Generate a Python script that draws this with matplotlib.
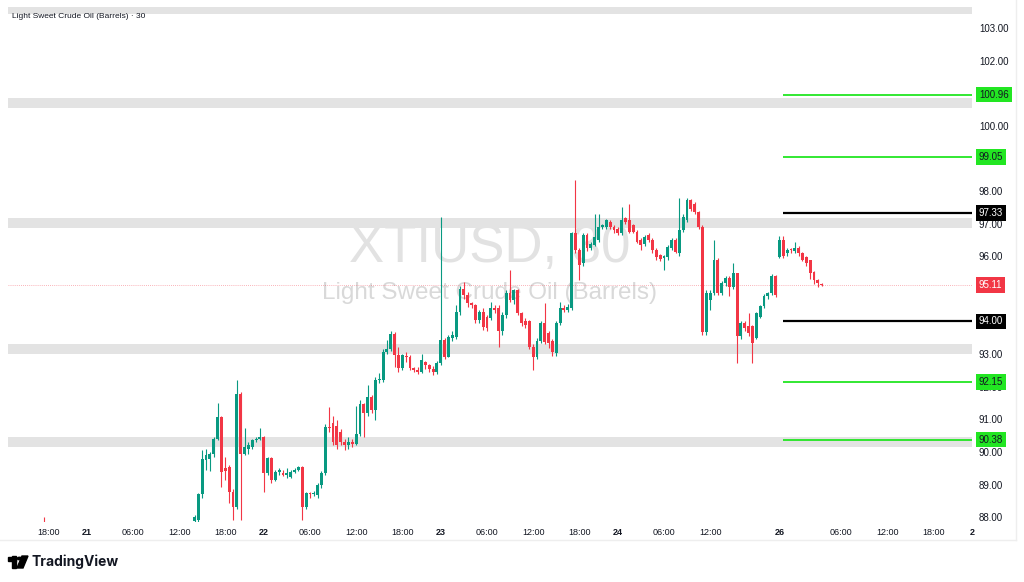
import numpy as np
import matplotlib.pyplot as plt
from matplotlib.transforms import blended_transform_factory
from matplotlib.patches import Rectangle, Circle, Polygon
from matplotlib.lines import Line2D

plt.rcParams['font.family'] = ['Liberation Sans', 'DejaVu Sans']

# 30 minute bars, x = bar number on the session axis (gaps removed)
bar_pos = [-1] + list(range(38, 202))

opens = [87.85,
    87.88, 87.90, 88.72, 89.75, 89.78, 89.95, 90.41, 91.08, 89.50, 89.54,
    88.78, 88.32, 91.79, 89.95, 90.10, 90.15, 90.36, 90.41, 90.46, 89.34,
    89.80, 89.13, 89.39, 89.35, 89.28, 89.24, 89.39, 89.44, 89.54, 88.32,
    88.73, 88.70, 88.68, 88.98, 89.34, 90.77, 90.90, 90.80, 90.60, 90.30,
    90.20, 90.30, 90.25, 90.56, 91.48, 91.18, 91.69, 91.28, 92.20, 92.20,
    93.07, 93.17, 93.63, 92.97, 92.56, 92.95, 92.92, 92.56, 92.50, 92.46,
    92.75, 92.65, 92.55, 92.46, 92.72, 93.43, 92.92, 93.50, 93.53, 94.30,
    95.00, 94.81, 94.56, 94.50, 94.04, 94.30, 94.15, 94.10, 94.40, 94.40,
    93.70, 94.20, 94.86, 94.66, 94.96, 94.25, 94.00, 94.00, 93.23, 92.92,
    93.40, 93.94, 93.64, 93.40, 93.02, 93.94, 94.40, 94.35, 94.40, 96.70,
    96.19, 95.78, 96.65, 96.25, 96.35, 96.50, 96.90, 96.90, 97.05, 96.90,
    96.85, 96.70, 97.16, 97.11, 96.95, 96.75, 96.50, 96.39, 96.65, 96.49,
    96.19, 96.03, 95.95, 95.98, 96.25, 96.49, 96.09, 96.80, 97.11, 97.72,
    97.60, 97.36, 96.90, 93.69, 94.66, 94.87, 95.89, 94.87, 95.18, 95.33,
    95.07, 95.48, 93.54, 93.95, 93.85, 93.85, 93.50, 94.15, 94.46, 94.77,
    94.87, 95.38, 95.99, 96.50, 96.10, 96.20, 96.15, 96.25, 96.10, 95.99,
    95.89, 95.52, 95.28, 95.15]

highs = [88.00,
    88.05, 88.75, 90.05, 90.10, 90.00, 90.45, 91.49, 91.10, 89.85, 89.60,
    88.85, 92.20, 91.85, 90.72, 90.30, 90.40, 90.45, 90.72, 90.50, 89.85,
    89.85, 89.45, 89.50, 89.45, 89.50, 89.45, 89.50, 89.58, 89.58, 88.78,
    88.78, 88.80, 89.05, 89.40, 90.85, 91.38, 91.10, 90.97, 90.70, 90.40,
    90.45, 90.40, 91.40, 91.60, 91.50, 92.05, 91.75, 92.30, 92.41, 93.15,
    93.43, 93.70, 93.68, 93.23, 93.00, 93.05, 92.97, 92.61, 92.60, 93.00,
    92.80, 92.70, 92.62, 92.78, 97.21, 93.50, 93.60, 93.70, 94.50, 95.10,
    95.22, 94.90, 94.60, 94.55, 94.35, 94.40, 94.20, 94.60, 94.50, 94.50,
    94.30, 94.95, 95.58, 95.00, 95.00, 94.30, 94.10, 94.05, 93.30, 93.50,
    94.00, 94.56, 93.70, 93.45, 94.00, 94.60, 94.50, 94.55, 96.75, 98.33,
    96.25, 96.70, 96.70, 96.45, 97.31, 97.31, 97.00, 97.15, 97.10, 96.95,
    96.90, 97.50, 97.20, 97.60, 97.00, 96.80, 96.55, 96.65, 96.70, 96.55,
    96.25, 96.08, 96.05, 96.35, 96.55, 96.55, 97.80, 97.30, 97.80, 97.75,
    97.65, 97.40, 96.95, 94.95, 94.95, 96.50, 95.95, 95.25, 95.40, 95.40,
    95.79, 95.50, 94.00, 94.00, 94.26, 93.90, 94.30, 94.50, 94.85, 94.90,
    95.45, 95.42, 96.61, 96.61, 96.25, 96.25, 96.45, 96.30, 96.12, 96.00,
    95.90, 95.55, 95.30, 95.18]

lows = [87.50,
    87.80, 87.70, 88.60, 89.45, 89.40, 89.85, 90.35, 88.93, 89.13, 88.42,
    87.90, 88.25, 87.90, 89.90, 89.95, 90.10, 90.30, 90.36, 88.78, 89.30,
    89.05, 89.10, 89.30, 89.25, 89.20, 89.20, 89.35, 89.40, 87.90, 88.25,
    88.60, 88.65, 88.60, 88.90, 89.30, 90.60, 90.20, 90.10, 90.20, 90.05,
    90.10, 90.15, 90.20, 90.50, 90.45, 91.10, 91.20, 90.97, 92.10, 92.15,
    93.00, 93.10, 92.60, 92.45, 92.50, 92.75, 92.50, 92.45, 92.40, 92.41,
    92.55, 92.45, 92.35, 92.40, 92.65, 92.85, 92.90, 93.40, 93.45, 94.20,
    94.70, 94.45, 94.40, 93.95, 93.95, 93.75, 93.70, 94.05, 94.25, 93.23,
    93.60, 94.10, 94.60, 94.55, 94.20, 93.85, 93.80, 93.15, 92.51, 92.85,
    93.35, 93.30, 93.20, 92.95, 92.95, 93.90, 94.30, 94.30, 94.35, 96.10,
    95.27, 95.70, 96.15, 96.20, 96.30, 96.45, 96.85, 96.85, 96.85, 96.70,
    96.65, 96.65, 97.00, 96.70, 96.70, 96.40, 96.20, 96.30, 96.45, 96.10,
    95.90, 95.85, 95.58, 95.90, 96.20, 96.10, 96.00, 96.75, 97.05, 97.40,
    97.30, 96.85, 93.60, 93.60, 94.35, 94.80, 94.80, 94.80, 95.10, 94.77,
    95.00, 92.72, 93.45, 93.70, 93.55, 92.72, 93.45, 94.10, 94.40, 94.70,
    94.80, 94.75, 95.95, 95.95, 96.00, 96.10, 96.10, 96.00, 95.85, 95.70,
    95.30, 95.15, 95.05, 95.08]

closes = [87.60,
    88.00, 88.72, 89.78, 89.90, 89.95, 90.41, 91.08, 89.39, 89.40, 88.78,
    88.32, 91.79, 89.95, 90.15, 90.20, 90.36, 90.40, 90.46, 89.34, 89.80,
    89.13, 89.39, 89.42, 89.30, 89.34, 89.39, 89.44, 89.54, 88.32, 88.73,
    88.70, 88.73, 88.98, 89.34, 90.77, 90.72, 90.30, 90.20, 90.30, 90.20,
    90.30, 90.25, 90.56, 91.48, 91.18, 91.69, 91.28, 92.20, 92.25, 93.07,
    93.17, 93.63, 92.97, 92.56, 92.97, 92.90, 92.56, 92.51, 92.45, 92.82,
    92.65, 92.55, 92.46, 92.72, 93.43, 92.92, 93.53, 93.60, 94.30, 95.00,
    94.81, 94.56, 94.50, 94.04, 94.30, 93.84, 93.80, 94.40, 94.35, 93.70,
    94.20, 94.86, 94.66, 94.96, 94.25, 93.94, 93.90, 93.23, 92.92, 93.40,
    93.94, 93.38, 93.33, 93.07, 93.94, 94.40, 94.35, 94.45, 96.70, 96.19,
    95.73, 96.65, 96.25, 96.39, 96.60, 96.90, 96.95, 97.11, 96.90, 96.80,
    96.70, 97.11, 97.05, 96.75, 96.75, 96.45, 96.34, 96.60, 96.49, 96.19,
    95.98, 95.93, 96.00, 96.29, 96.49, 96.14, 96.80, 97.20, 97.72, 97.46,
    97.36, 96.90, 93.69, 94.87, 94.87, 95.89, 94.87, 95.18, 95.33, 95.07,
    95.48, 93.54, 93.95, 93.80, 93.64, 93.34, 94.26, 94.46, 94.77, 94.87,
    95.38, 94.80, 96.50, 96.00, 96.20, 96.18, 96.25, 96.10, 95.89, 95.79,
    95.48, 95.28, 95.18, 95.11]

last_price = 95.11

# grey supply/demand zones (low, high)
zones = [(103.43, 103.64), (100.55, 100.85), (96.87, 97.17),
         (93.00, 93.31), (90.16, 90.46)]

# horizontal levels drawn from the start of the 26th
levels = [100.96, 99.05, 97.33, 94.00, 92.15, 90.38]
level_kind = ['green', 'green', 'black', 'black', 'green', 'green']
level_start = 191

# time axis
time_pos = [0, 10, 22, 34, 46, 56, 68, 80, 92, 102, 114, 126, 138, 148,
            160, 172, 190, 206, 218, 230, 240]
time_lbl = ['18:00', '21', '06:00', '12:00', '18:00', '22', '06:00', '12:00',
            '18:00', '23', '06:00', '12:00', '18:00', '24', '06:00', '12:00',
            '26', '06:00', '12:00', '18:00', '2']

# scale labels that are not hidden behind a price box
price_ticks = [88, 89, 90, 91, 92, 93, 96, 97, 98, 100, 102, 103]

GREEN = '#089981'
RED = '#f23645'
LIME = '#22e622'
TXT = '#131722'

W, H = 1024, 582
fig = plt.figure(figsize=(W / 100, H / 100), dpi=100)
fig.patch.set_facecolor('white')

def fx(x):
    return x / W

def fy(y):
    return 1 - y / H

ax = fig.add_axes([fx(8), fy(522), (972 - 8) / W, (522 - 5) / H])
ax.set_xlim(-10.47, 240.05)
ax.set_ylim(87.85, 103.705)
for s in ax.spines.values():
    s.set_visible(False)

# zones
for lo, hi in zones:
    ax.axhspan(lo, hi, color='#e3e3e3', lw=0, zorder=1)

# watermark
ax.text(fx(490), fy(248), 'XTIUSD, 30', transform=fig.transFigure,
        ha='center', va='center', fontsize=38, color='#e2e2e2', zorder=0.5)
ax.text(fx(490), fy(293), 'Light Sweet Crude Oil (Barrels)',
        transform=fig.transFigure, ha='center', va='center', fontsize=17.5,
        color='#d9d9d9', zorder=0.5)

# last price line
ax.axhline(last_price, color=RED, lw=0.6, ls=(0, (1, 1.5)), alpha=0.5, zorder=2)

# candles
x = np.array(bar_pos)
o, h, l, c = map(np.array, (opens, highs, lows, closes))
col = np.where(c >= o, GREEN, RED)
ax.vlines(x, l, h, colors=col, lw=0.8, zorder=3)
ax.bar(x, np.maximum(np.abs(c - o), 0.04), bottom=np.minimum(o, c),
       width=0.75, color=col, lw=0, zorder=4)

# level lines
for lv, k in zip(levels, level_kind):
    ax.hlines(lv, level_start, 240.05, colors=LIME if k == 'green' else 'black',
              lw=1.3 if k == 'green' else 1.6, zorder=5)

# axes ticks
ax.yaxis.tick_right()
ax.set_yticks(price_ticks)
ax.set_yticklabels([f'{v:.2f}' for v in price_ticks])
ax.tick_params(axis='y', length=0, pad=5, labelsize=7, labelcolor=TXT)
ax.set_xticks(time_pos)
ax.set_xticklabels(time_lbl)
ax.tick_params(axis='x', length=0, pad=4, labelsize=6.5, labelcolor=TXT)
for t, lab in zip(ax.get_xticklabels(), time_lbl):
    if ':' not in lab:
        t.set_fontweight('bold')

# price boxes on the axis
tr = blended_transform_factory(ax.transAxes, ax.transData)
boxes = [(lv, LIME, TXT) if k == 'green' else (lv, 'black', 'white')
         for lv, k in zip(levels, level_kind)]
boxes.append((last_price, RED, 'white'))
for p, fc, tc in boxes:
    ax.annotate(f'{p:.2f}', xy=(1, p), xycoords=tr, xytext=(5, 0),
                textcoords='offset points', ha='left', va='center',
                fontsize=7, color=tc, zorder=10, annotation_clip=False,
                bbox=dict(boxstyle='square,pad=0.3', fc=fc, ec='none'))

# title
fig.text(fx(12), fy(17), 'Light Sweet Crude Oil (Barrels) · 30', fontsize=6,
         color=TXT, va='center', ha='left')

# frame of the chart widget
fig.add_artist(Line2D([0, fx(1016)], [fy(540), fy(540)], color='#eeeeee', lw=1))
fig.add_artist(Line2D([fx(1016), fx(1016)], [fy(540), 1], color='#eeeeee', lw=1))

# TradingView logo
fig.add_artist(Rectangle((fx(8), fy(561)), 8 / W, 4 / H, transform=fig.transFigure,
                         color='black'))
fig.add_artist(Rectangle((fx(12), fy(568)), 4 / W, 12 / H, transform=fig.transFigure,
                         color='black'))
fig.add_artist(Circle((fx(19.5), fy(558.5)), 2.2 / W, transform=fig.transFigure,
                      color='black'))
fig.add_artist(Polygon([(fx(22), fy(556)), (fx(28), fy(556)), (fx(23), fy(568)),
                        (fx(17), fy(568))], closed=True, transform=fig.transFigure,
                       color='black'))
fig.text(fx(32), fy(562), 'TradingView', fontsize=10, fontweight='bold',
         family=['Inter', 'DejaVu Sans'], color=TXT, va='center', ha='left')

fig.savefig('out.png', dpi=100, facecolor='white')
